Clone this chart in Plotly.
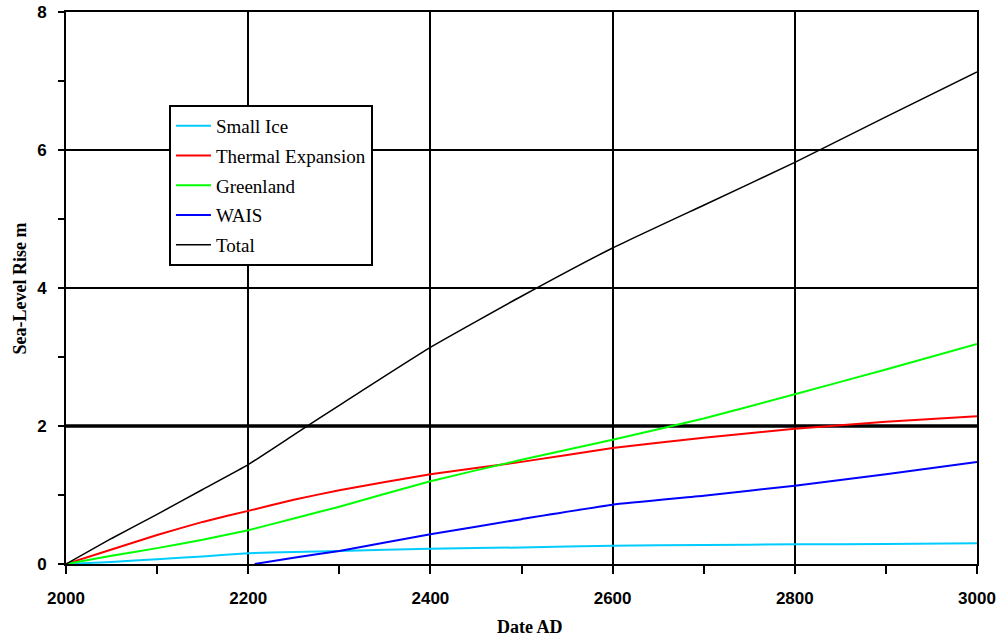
import plotly.graph_objects as go

# ---- data ----
years = [2000, 2050, 2100, 2150, 2200, 2250, 2300, 2400, 2500, 2600, 2700, 2800, 2900, 3000]
small_ice = [0, 0.03, 0.07, 0.11, 0.155, 0.175, 0.19, 0.22, 0.24, 0.265, 0.275, 0.285, 0.29, 0.30]
thermal = [0, 0.21, 0.42, 0.61, 0.77, 0.93, 1.07, 1.30, 1.48, 1.68, 1.83, 1.96, 2.06, 2.14]
greenland = [0, 0.12, 0.23, 0.35, 0.49, 0.66, 0.83, 1.20, 1.51, 1.80, 2.11, 2.46, 2.82, 3.19]
wais_years = [2207, 2250, 2300, 2400, 2500, 2600, 2700, 2800, 2900, 3000]
wais = [0, 0.09, 0.19, 0.43, 0.65, 0.86, 0.99, 1.135, 1.30, 1.48]
total = [0, 0.37, 0.72, 1.08, 1.44, 1.87, 2.30, 3.14, 3.88, 4.58, 5.20, 5.82, 6.48, 7.13]

x_ticks = [2000, 2200, 2400, 2600, 2800, 3000]
y_ticks = [0, 2, 4, 6, 8]

series = [
    ("Small Ice", years, small_ice, "#00CCFF", 2),
    ("Thermal Expansion", years, thermal, "#FF0000", 2),
    ("Greenland", years, greenland, "#00FF00", 2),
    ("WAIS", wais_years, wais, "#0000FF", 2),
    ("Total", years, total, "#000000", 1.5),
]

fig = go.Figure()
for name, xs, ys, color, w in series:
    fig.add_trace(go.Scatter(x=xs, y=ys, mode="lines", name=name,
                             legendgroup=name,
                             line=dict(color=color, width=w, shape="spline",
                                       smoothing=0.4)))

tickfont = dict(family="Liberation Sans", size=17, color="black", weight="bold")

fig.update_layout(
    width=996, height=642,
    margin=dict(l=66, r=19, t=12, b=78),
    paper_bgcolor="white", plot_bgcolor="white",
    showlegend=True,
    legend=dict(x=0.113, y=0.8315, xanchor="left", yanchor="top",
                bgcolor="white", bordercolor="black", borderwidth=2,
                font=dict(family="Liberation Serif", size=19, color="black"),
                tracegroupgap=2, itemwidth=35),
    xaxis=dict(range=[2000, 3000], tickvals=x_ticks, showgrid=True,
               gridcolor="black", gridwidth=2, showline=True, linecolor="black",
               linewidth=2, mirror=True, ticks="outside", ticklen=8, tickwidth=2,
               tickcolor="black", tickfont=tickfont, ticklabelstandoff=10,
               automargin=False,
               minor=dict(dtick=100, tick0=2000, ticks="outside", ticklen=8,
                          tickwidth=2, tickcolor="black", showgrid=False),
               zeroline=False),
    yaxis=dict(range=[0, 8], tickvals=y_ticks, showgrid=True,
               gridcolor="black", gridwidth=2, showline=True, linecolor="black",
               linewidth=2, mirror=True, ticks="outside", ticklen=6, tickwidth=2,
               tickcolor="black", tickfont=tickfont, ticklabelstandoff=8,
               automargin=False,
               minor=dict(dtick=1, tick0=0, ticks="outside", ticklen=6,
                          tickwidth=2, tickcolor="black", showgrid=False),
               zeroline=False),
)

# thicker reference line at 2 m
fig.add_shape(type="line", xref="paper", yref="y", x0=0, x1=1, y0=2, y1=2,
              line=dict(color="black", width=3.5), layer="below")

fig.add_annotation(text="<b>Sea-Level Rise m</b>", xref="paper", yref="paper",
                   x=-0.050, y=0.50, xanchor="center", yanchor="middle",
                   textangle=-90, showarrow=False,
                   font=dict(family="Liberation Serif", size=18, color="black"))
fig.add_annotation(text="<b>Date AD</b>", xref="paper", yref="paper",
                   x=0.509, y=-0.115, xanchor="center", yanchor="middle",
                   showarrow=False,
                   font=dict(family="Liberation Serif", size=18, color="black"))

fig.write_html("out.html", config={"displayModeBar": False},
               post_script="document.body.style.margin='0px';document.body.style.overflow='hidden';")
